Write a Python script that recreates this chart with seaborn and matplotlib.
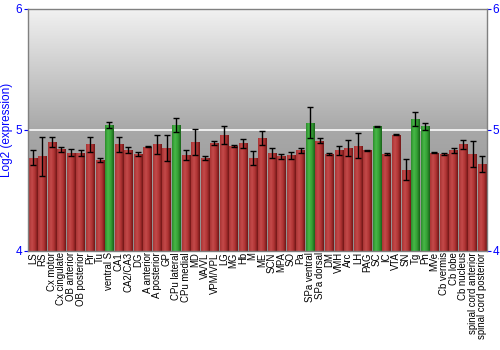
import numpy as np
import matplotlib
matplotlib.use("Agg")
import matplotlib.pyplot as plt
from matplotlib.colors import LinearSegmentedColormap
import seaborn as sns

# Regions
regions = ["LS", "RS", "Cx motor", "Cx cingulate", "OB anterior", "OB posterior", "Pir", "Tu",
           "ventral S", "CA1", "CA2/CA3", "DG", "A anterior", "A posterior", "GP",
           "CPu lateral", "CPu medial", "MD", "VA/VL", "VPM/VPL", "LG", "MG", "Hb", "M",
           "ME", "SCN", "MPA", "SO", "Pa", "SPa ventral", "SPa dorsal", "DM", "VMH", "Arc",
           "LH", "PAG", "SC", "IC", "VTA", "SN", "Tg", "Pn", "MVe", "Cb vermis", "Cb lobe",
           "Cb nucleus", "spinal cord anterior", "spinal cord posterior"]

# Log2 expression values and errors
values = [4.77, 4.78, 4.90, 4.84, 4.81, 4.81, 4.88, 4.75,
          5.04, 4.88, 4.83, 4.80, 4.86, 4.88, 4.85,
          5.04, 4.79, 4.90, 4.77, 4.89, 4.96, 4.87, 4.89, 4.77,
          4.93, 4.81, 4.78, 4.79, 4.83, 5.06, 4.91, 4.80, 4.83, 4.85,
          4.87, 4.83, 5.03, 4.80, 4.96, 4.67, 5.09, 5.03, 4.81, 4.80, 4.83,
          4.88, 4.80, 4.72]
errors = [0.06, 0.165, 0.04, 0.02, 0.03, 0.025, 0.06, 0.015,
          0.025, 0.06, 0.025, 0.017, 0.005, 0.08, 0.105,
          0.054, 0.04, 0.11, 0.018, 0.014, 0.073, 0.008, 0.037, 0.058,
          0.058, 0.04, 0.02, 0.03, 0.018, 0.127, 0.02, 0.005, 0.04, 0.07,
          0.10, 0.005, 0.005, 0.005, 0.005, 0.087, 0.06, 0.03, 0.005, 0.005, 0.02,
          0.036, 0.107, 0.067]
highlight = ["ventral S", "CPu lateral", "SPa ventral", "SC", "Tg", "Pn"]

red_cmap = LinearSegmentedColormap.from_list("r", ["#a83434", "#c44a4a", "#b03434", "#701616"])
green_cmap = LinearSegmentedColormap.from_list("g", ["#2c8c2c", "#48b848", "#34a034", "#1a621a"])
palette = {r: ("#3aa83a" if r in highlight else "#b83a3a") for r in regions}

fig = plt.figure(figsize=(5, 3.5), dpi=100)
ax = fig.add_axes([0.056, 0.283, 0.918, 0.692])

sns.barplot(x=regions, y=values, hue=regions, palette=palette, legend=False,
            width=0.88, ax=ax, zorder=2)

xlim = (-0.5, len(regions) - 0.5)
ylim = (4, 6)

# background gradient
bg = np.linspace(0, 1, 256).reshape(-1, 1)
bg_cmap = LinearSegmentedColormap.from_list(
    "bg", [(0, "#f2f2f2"), (0.5, "#a8a8a8"), (1, "#8e8e8e")])
ax.imshow(bg, cmap=bg_cmap, aspect="auto", extent=(xlim[0], xlim[1], ylim[0], ylim[1]),
          origin="upper", zorder=0)
ax.axhline(5, color="#f4f4f4", lw=1.3, zorder=1)

# cylinder shading on bars
grad = np.linspace(0, 1, 64).reshape(1, -1)
for patch, reg in zip(ax.patches, regions):
    x0, w = patch.get_x(), patch.get_width()
    top = patch.get_y() + patch.get_height()
    cmap = green_cmap if reg in highlight else red_cmap
    im = ax.imshow(grad, cmap=cmap, aspect="auto",
                   extent=(x0, x0 + w, max(patch.get_y(), ylim[0]), top), zorder=2.5)
    im.set_clip_path(patch)
    patch.set_edgecolor("none")

ax.errorbar(np.arange(len(regions)), values, yerr=errors, fmt="none", ecolor="black",
            elinewidth=1, capsize=2, capthick=1, zorder=4)

ax.set_xlim(*xlim)
ax.set_ylim(*ylim)
ax.set_yticks([4, 5, 6])
ax.tick_params(axis="y", colors="blue", labelsize=8.5, length=3, pad=1,
               right=True, labelright=True)
ax.tick_params(axis="x", length=0, labelsize=6.9, pad=1)
ax.set_xticks(np.arange(len(regions)))
ax.set_xticklabels(regions, rotation=90, fontfamily="Liberation Sans")
for lab in ax.yaxis.get_ticklabels(which="both"):
    lab.set_fontfamily("Liberation Sans")
ax.set_ylabel("Log2 (expression)", color="blue", fontsize=8.5, fontfamily="Liberation Sans",
              labelpad=2)
ax.set_xlabel("")
for s in ax.spines.values():
    s.set_color("#808080")
    s.set_linewidth(1)

fig.savefig("out.png", dpi=100)
